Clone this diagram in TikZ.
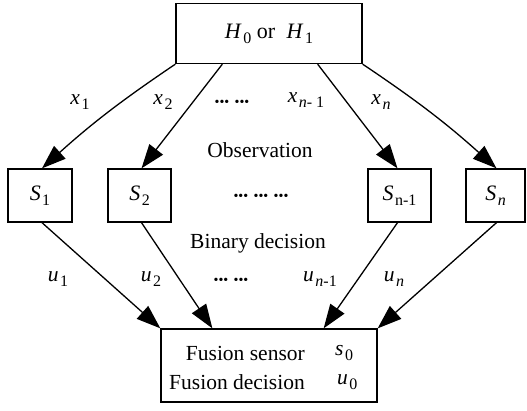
\documentclass[tikz,border=0pt]{standalone}
\usepackage{fontspec}
\setmainfont{Liberation Serif}
\usetikzlibrary{arrows.meta}
\newcommand\sbs[1]{\kern1.5pt\raisebox{-5pt}{\fontsize{16}{16}\selectfont #1}}
\newcommand\vr[2]{\textit{#1}\sbs{#2}}
\newcommand\dts{{\fontsize{14}{14}\selectfont •••}}
\begin{document}
\begin{tikzpicture}[x=1pt,y=-1pt,
  box/.style={draw,line width=1.3pt,inner sep=0pt,font=\fontsize{22}{24}\selectfont},
  lbl/.style={inner sep=0pt,font=\fontsize{21.5}{24}\selectfont},
  arr/.style={line width=1.3pt,-{Triangle[length=24pt,width=17pt]}}]
\useasboundingbox (0,0) rectangle (527,410);
\node[box,minimum width=186pt,minimum height=60pt] (top) at (269,33.5) {\vr{H}{0} or\; \vr{H}{1}};
\node[box,minimum width=64pt,minimum height=53pt] (s1) at (40,195.5) {\vr{S}{1}};
\node[box,minimum width=63pt,minimum height=53pt] (s2) at (139.5,195.5) {\vr{S}{2}};
\node[box,minimum width=63pt,minimum height=53pt] (sn1) at (399.5,195.5) {\textit{S}\sbs{n-1}};
\node[box,minimum width=59pt,minimum height=53pt] (sn) at (495.5,195.5) {\vr{S}{\textit{n}}};
\node[box,minimum width=216pt,minimum height=73pt] (fus) at (269,365.5) {};
\node[lbl,anchor=east] (fs) at (305,353) {Fusion sensor};
\node[lbl,anchor=east] (fd) at (305,382) {Fusion decision};
\node[lbl,anchor=west] (s0) at (335,353) {\vr{s}{0}};
\node[lbl,anchor=west] (u0) at (337,382) {\vr{u}{0}};
\draw[arr] (top.south west) to[bend right=4] ([xshift=2pt]s1.north);
\draw[arr] ([xshift=47pt]top.south west) -- ([xshift=2pt]s2.north);
\draw[arr] ([xshift=-45pt]top.south east) -- ([xshift=-2pt]sn1.north);
\draw[arr] (top.south east) to[bend left=4] ([xshift=1pt]sn.north);
\draw[arr] ([xshift=2pt]s1.south) -- (fus.north west);
\draw[arr] ([xshift=2pt]s2.south) -- ([xshift=52pt]fus.north west);
\draw[arr] ([xshift=-2pt]sn1.south) -- ([xshift=-54pt]fus.north east);
\draw[arr] ([xshift=1pt]sn.south) -- (fus.north east);
\node[lbl] (x1) at (80,102) {\vr{x}{1}};
\node[lbl] (x2) at (163,102) {\vr{x}{2}};
\node[lbl] (d1) at (232,103) {\dts\ \dts};
\node[lbl] (xn1) at (306,100) {\textit{x}\sbs{\textit{n}- 1}};
\node[lbl] (xn) at (381,102) {\vr{x}{\textit{n}}};
\node[lbl] (obs) at (260,150) {Observation};
\node[lbl] (d2) at (261,197) {\dts\ \dts\ \dts};
\node[lbl] (bin) at (258,243) {Binary decision};
\node[lbl] (u1) at (58,279) {\vr{u}{1}};
\node[lbl] (u2) at (151,279) {\vr{u}{2}};
\node[lbl] (d3) at (231,281) {\dts\ \dts};
\node[lbl] (un1) at (320,279) {\textit{u}\sbs{\textit{n}-1}};
\node[lbl] (un) at (394,279) {\vr{u}{\textit{n}}};
\end{tikzpicture}
\end{document}
